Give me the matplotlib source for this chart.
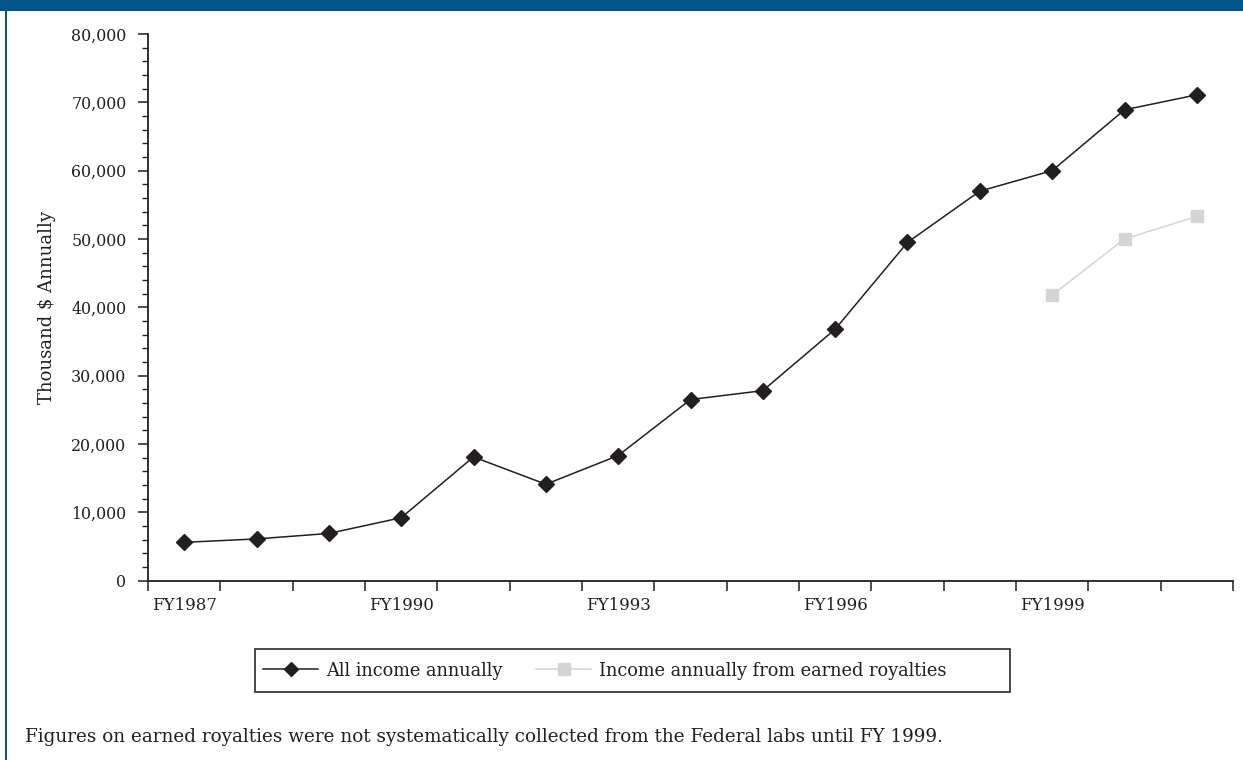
import matplotlib
matplotlib.use("Agg")
import matplotlib.pyplot as plt
from matplotlib.patches import Rectangle
from matplotlib.ticker import FuncFormatter, MultipleLocator

years = ["FY1987", "FY1988", "FY1989", "FY1990", "FY1991", "FY1992", "FY1993",
         "FY1994", "FY1995", "FY1996", "FY1997", "FY1998", "FY1999", "FY2000", "FY2001"]
all_income = [5600, 6100, 6900, 9200, 18100, 14100, 18300, 26500, 27800, 36800,
              49500, 57000, 60000, 68900, 71100]
royalty_years = ["FY1999", "FY2000", "FY2001"]
royalty_income = [41800, 50000, 53300]
shown_labels = ["FY1987", "FY1990", "FY1993", "FY1996", "FY1999"]

W, H = 1243, 760
fig = plt.figure(figsize=(W / 100, H / 100), dpi=100)
plt.rcParams['font.family'] = ['DejaVu Serif']
INK = "#231f20"
BLUE = "#01558b"

# decorations: top band and left rule
fig.patches.append(Rectangle((0, 1 - 11 / H), 1, 11 / H, transform=fig.transFigure,
                             facecolor=BLUE, edgecolor="none"))
fig.patches.append(Rectangle((5 / W, 0), 2 / W, 1, transform=fig.transFigure,
                             facecolor=BLUE, edgecolor="none"))

ax = fig.add_axes([148 / W, 1 - 580.6 / H, (1233 - 148) / W, (580.6 - 34) / H])
idx = {y: i for i, y in enumerate(years)}
xa = [idx[y] for y in years]
xr = [idx[y] for y in royalty_years]

ax.plot(xa, all_income, color=INK, lw=1.1, marker="D", ms=8.5,
        mfc=INK, mec=INK, label="All income annually", zorder=3)
ax.plot(xr, royalty_income, color="#d3d4d6", lw=1.1, marker="s", ms=8.5,
        mfc="#d3d4d6", mec="#d3d4d6", label="Income annually from earned royalties", zorder=2)

ax.set_xlim(-0.5, len(years) - 0.5)
ax.set_ylim(0, 80000)
for s in ["top", "right"]:
    ax.spines[s].set_visible(False)
for s in ["left", "bottom"]:
    ax.spines[s].set_color(INK)
    ax.spines[s].set_linewidth(1.3)

ax.set_xticks([i - 0.5 for i in range(len(years) + 1)])
ax.set_xticklabels([])
ax.set_xticks([idx[l] for l in shown_labels], minor=True)
ax.set_xticklabels(shown_labels, minor=True)
ax.tick_params(axis="x", which="major", direction="out", length=7.5, width=1.1, color=INK)
ax.tick_params(axis="x", which="minor", length=0, pad=12, labelsize=12, labelcolor=INK)

ax.yaxis.set_major_locator(MultipleLocator(10000))
ax.yaxis.set_minor_locator(MultipleLocator(2000))
ax.yaxis.set_major_formatter(FuncFormatter(lambda v, p: f"{int(v):,}"))
ax.tick_params(axis="y", which="major", direction="out", length=7.5, width=1.1,
               color=INK, pad=8, labelsize=11.4, labelcolor=INK)
ax.tick_params(axis="y", which="minor", direction="out", length=4, width=1.0, color=INK)
ax.set_ylabel("Thousand $ Annually", fontsize=13, color=INK)
ax.yaxis.set_label_coords(-(148 - 56) / (1233 - 148), 0.5)

# legend box drawn explicitly, entries placed inside it
fig.patches.append(Rectangle((255 / W, 1 - 692 / H), (1010 - 255) / W, (692 - 649) / H,
                             transform=fig.transFigure, facecolor="none",
                             edgecolor="#3a3a3a", linewidth=1.3, zorder=5))
leg = fig.legend(loc="center left", bbox_to_anchor=(263 / W, 1 - 670.5 / H),
                 ncol=2, frameon=False, fontsize=12.8, borderpad=0, borderaxespad=0,
                 handlelength=3.1, columnspacing=1.9, handletextpad=0.45)
leg.legend_handles[0].set_markersize(7)
for t in leg.get_texts():
    t.set_color(INK)

fig.text(25 / W, 1 - 742 / H,
         "Figures on earned royalties were not systematically collected from the Federal labs until FY 1999.",
         fontsize=13.2, color=INK, va="baseline", ha="left")

fig.savefig("out.png", dpi=100, facecolor="white")
